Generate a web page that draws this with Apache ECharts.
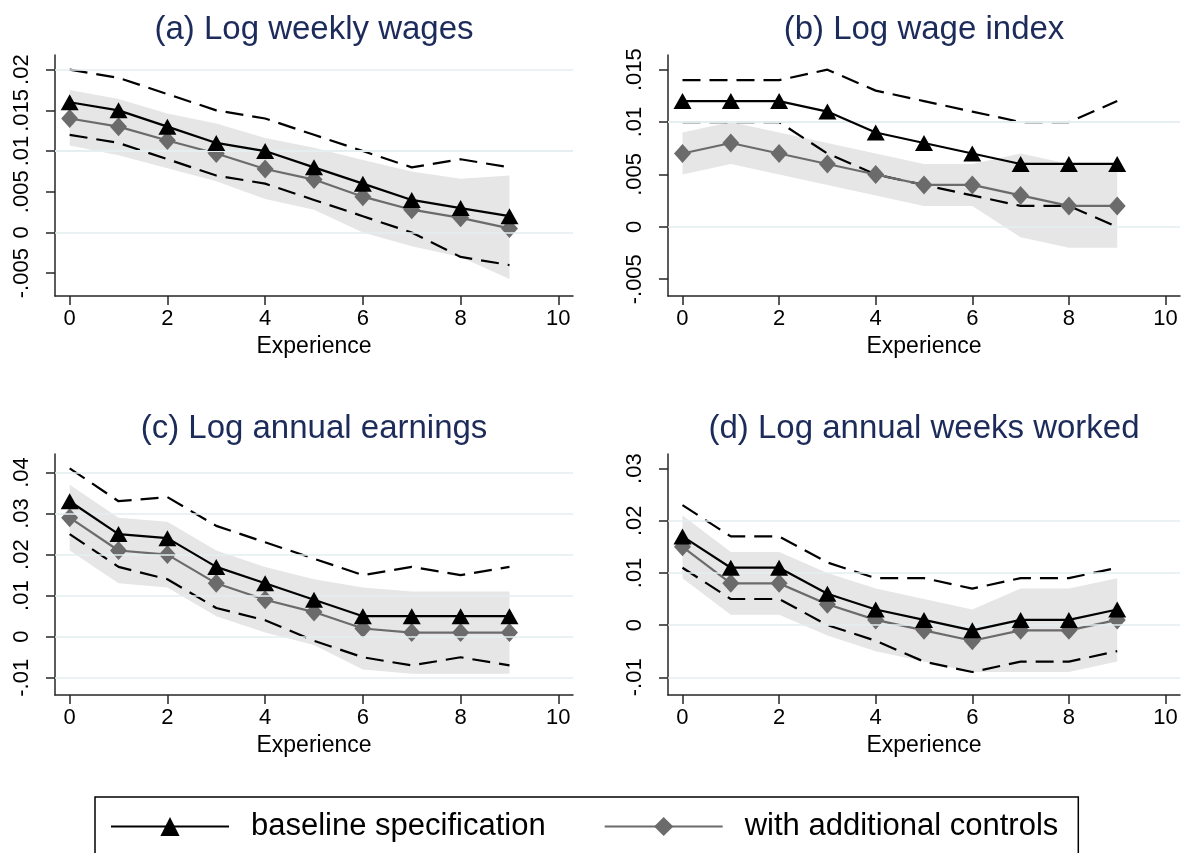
<!DOCTYPE html>
<html>
<head>
<meta charset="utf-8">
<script src="https://cdn.jsdelivr.net/npm/echarts@6/dist/echarts.min.js"></script>
<style>
  html, body { margin: 0; padding: 0; background: #ffffff; }
  #chart { width: 1186px; height: 853px; }
</style>
</head>
<body>
<div id="chart"></div>
<script>
// Years of experience on the horizontal axis
const experience = [0, 1, 2, 3, 4, 5, 6, 7, 8, 9];
const xTicks = [0, 2, 4, 6, 8, 10];

// (a) Log weekly wages
const wagesBase   = [0.016, 0.015, 0.013, 0.011, 0.010, 0.008, 0.006, 0.004, 0.003, 0.002];
const wagesBaseHi = [0.020, 0.019, 0.017, 0.015, 0.014, 0.012, 0.010, 0.008, 0.009, 0.008];
const wagesBaseLo = [0.012, 0.011, 0.009, 0.007, 0.006, 0.004, 0.002, 0.000, -0.003, -0.004];
const wagesCtrl   = [0.014, 0.013, 0.0113, 0.0097, 0.0078, 0.0065, 0.0044, 0.0028, 0.0018, 0.0005];
const wagesCtrlHi = [0.0175, 0.0164, 0.0146, 0.0134, 0.0116, 0.0104, 0.0089, 0.0075, 0.0066, 0.0070];
const wagesCtrlLo = [0.0107, 0.0095, 0.0079, 0.0063, 0.0041, 0.0028, 0.0000, -0.0017, -0.0030, -0.0057];
const wagesTicks  = [-0.005, 0, 0.005, 0.01, 0.015, 0.02];

// (b) Log wage index
const indexBase   = [0.012, 0.012, 0.012, 0.011, 0.009, 0.008, 0.007, 0.006, 0.006, 0.006];
const indexBaseHi = [0.014, 0.014, 0.014, 0.015, 0.013, 0.012, 0.011, 0.010, 0.010, 0.012];
const indexBaseLo = [0.010, 0.010, 0.010, 0.007, 0.005, 0.004, 0.003, 0.002, 0.002, 0.000];
const indexCtrl   = [0.007, 0.008, 0.007, 0.006, 0.005, 0.004, 0.004, 0.003, 0.002, 0.002];
const indexCtrlHi = [0.009, 0.010, 0.009, 0.008, 0.007, 0.006, 0.006, 0.007, 0.006, 0.006];
const indexCtrlLo = [0.005, 0.006, 0.005, 0.004, 0.003, 0.002, 0.002, -0.001, -0.002, -0.002];
const indexTicks  = [-0.005, 0, 0.005, 0.01, 0.015];

// (c) Log annual earnings
const earnBase    = [0.033, 0.025, 0.024, 0.017, 0.013, 0.009, 0.005, 0.005, 0.005, 0.005];
const earnBaseHi  = [0.041, 0.033, 0.034, 0.027, 0.023, 0.019, 0.015, 0.017, 0.015, 0.017];
const earnBaseLo  = [0.025, 0.017, 0.014, 0.007, 0.004, -0.001, -0.005, -0.007, -0.005, -0.007];
const earnCtrl    = [0.029, 0.021, 0.020, 0.013, 0.009, 0.006, 0.002, 0.001, 0.001, 0.001];
const earnCtrlHi  = [0.037, 0.029, 0.028, 0.021, 0.017, 0.014, 0.012, 0.011, 0.011, 0.011];
const earnCtrlLo  = [0.021, 0.013, 0.012, 0.005, 0.001, -0.002, -0.008, -0.009, -0.009, -0.009];
const earnTicks   = [-0.01, 0, 0.01, 0.02, 0.03, 0.04];

// (d) Log annual weeks worked
const weeksBase   = [0.017, 0.011, 0.011, 0.006, 0.003, 0.001, -0.001, 0.001, 0.001, 0.003];
const weeksBaseHi = [0.023, 0.017, 0.017, 0.012, 0.009, 0.009, 0.007, 0.009, 0.009, 0.011];
const weeksBaseLo = [0.011, 0.005, 0.005, 0.000, -0.003, -0.007, -0.009, -0.007, -0.007, -0.005];
const weeksCtrl   = [0.015, 0.008, 0.008, 0.004, 0.001, -0.001, -0.003, -0.001, -0.001, 0.001];
const weeksCtrlHi = [0.021, 0.014, 0.014, 0.010, 0.007, 0.005, 0.003, 0.007, 0.007, 0.009];
const weeksCtrlLo = [0.009, 0.002, 0.002, -0.002, -0.005, -0.007, -0.009, -0.009, -0.009, -0.007];
const weeksTicks  = [-0.01, 0, 0.01, 0.02, 0.03];

const titles = ['(a) Log weekly wages', '(b) Log wage index', '(c) Log annual earnings', '(d) Log annual weeks worked'];
const baseName = 'baseline specification';
const ctrlName = 'with additional controls';
const xTitle = 'Experience';

const FONT = '"Liberation Sans", Arial, Helvetica, sans-serif';
const AXIS_COLOR = '#262626';
const GRID_COLOR = '#e5eef1';
const BAND_COLOR = '#e6e6e6';
const CTRL_COLOR = '#6b6b6b';
const TITLE_COLOR = '#1c2b5a';

const panels = [
  { title: titles[0], base: wagesBase, baseHi: wagesBaseHi, baseLo: wagesBaseLo,
    ctrl: wagesCtrl, ctrlHi: wagesCtrlHi, ctrlLo: wagesCtrlLo, ticks: wagesTicks, grid: wagesTicks,
    yMin: -0.0078, yMax: 0.0218,
    box: { left: 55, top: 55, width: 518, height: 241 }, titleX: 314, titleY: 13 },
  { title: titles[1], base: indexBase, baseHi: indexBaseHi, baseLo: indexBaseLo,
    ctrl: indexCtrl, ctrlHi: indexCtrlHi, ctrlLo: indexCtrlLo, ticks: indexTicks, grid: indexTicks,
    yMin: -0.0066, yMax: 0.0164,
    box: { left: 668, top: 55, width: 512, height: 241 }, titleX: 924, titleY: 13 },
  { title: titles[2], base: earnBase, baseHi: earnBaseHi, baseLo: earnBaseLo,
    ctrl: earnCtrl, ctrlHi: earnCtrlHi, ctrlLo: earnCtrlLo, ticks: earnTicks, grid: earnTicks,
    yMin: -0.0142, yMax: 0.0445,
    box: { left: 55, top: 454, width: 518, height: 241 }, titleX: 314, titleY: 412 },
  { title: titles[3], base: weeksBase, baseHi: weeksBaseHi, baseLo: weeksBaseLo,
    ctrl: weeksCtrl, ctrlHi: weeksCtrlHi, ctrlLo: weeksCtrlLo, ticks: weeksTicks, grid: weeksTicks.slice(0, 4),
    yMin: -0.0134, yMax: 0.0328,
    box: { left: 668, top: 454, width: 512, height: 241 }, titleX: 924, titleY: 412 }
];

// Stata-style tick labels: ".015", "-.005", "0"
function fmtY(v) {
  if (Math.abs(v) < 1e-12) return '0';
  return String(+Number(v).toFixed(4)).replace(/^(-?)0\./, '$1.');
}

const pairs = (ys) => experience.map((x, k) => [x, ys[k]]);

const option = {
  animation: false,
  backgroundColor: '#ffffff',
  textStyle: { fontFamily: FONT },
  title: panels.map(p => ({
    text: p.title, left: p.titleX, top: p.titleY, textAlign: 'center', padding: 0,
    textStyle: { fontFamily: FONT, fontSize: 33, fontWeight: 'normal', color: TITLE_COLOR }
  })),
  grid: panels.map(p => Object.assign({ containLabel: false }, p.box)),
  xAxis: panels.map((p, i) => ({
    gridIndex: i, type: 'value', min: -0.3, max: 10.3,
    name: xTitle, nameLocation: 'middle', nameGap: 39,
    nameTextStyle: { fontFamily: FONT, fontSize: 23, color: '#000' },
    splitLine: { show: false },
    axisLine: { show: true, onZero: false, lineStyle: { color: AXIS_COLOR, width: 1.5 } },
    axisTick: { show: true, length: 9, customValues: xTicks, lineStyle: { color: AXIS_COLOR, width: 1.5 } },
    axisLabel: { customValues: xTicks, fontFamily: FONT, fontSize: 22, color: '#000', margin: 12 }
  })),
  yAxis: panels.map((p, i) => ({
    gridIndex: i, type: 'value', min: p.yMin, max: p.yMax,
    splitLine: { show: false },
    axisLine: { show: true, onZero: false, lineStyle: { color: AXIS_COLOR, width: 1.5 } },
    axisTick: { show: true, length: 9, customValues: p.ticks, lineStyle: { color: AXIS_COLOR, width: 1.5 } },
    axisLabel: { customValues: p.ticks, rotate: 90, fontFamily: FONT, fontSize: 22, color: '#000',
                 margin: 22, formatter: fmtY }
  })),
  legend: {
    data: [baseName, ctrlName],
    left: 95, top: 797, orient: 'horizontal',
    padding: [14, 20, 40, 15],
    itemGap: 58, itemWidth: 118, itemHeight: 24,
    borderColor: '#000', borderWidth: 1.5, borderRadius: 0,
    selectedMode: false,
    textStyle: { fontFamily: FONT, fontSize: 31, color: '#000', padding: [0, 0, 0, 17] }
  },
  series: []
};

panels.forEach((p, i) => {
  const axes = { xAxisIndex: i, yAxisIndex: i };
  // horizontal grid lines
  option.series.push(Object.assign({
    type: 'line', name: 'grid' + i, data: [], z: 1, silent: true,
    markLine: {
      silent: true, symbol: ['none', 'none'], label: { show: false },
      lineStyle: { color: GRID_COLOR, width: 1.5, type: 'solid' },
      data: p.grid.map(v => ({ yAxis: v }))
    }
  }, axes));
  // shaded confidence band of the specification with controls
  option.series.push(Object.assign({
    type: 'custom', name: 'band' + i, z: 2, silent: true, clip: true,
    data: experience.map((x, k) => [x, p.ctrlLo[k], p.ctrlHi[k]]),
    encode: { x: 0, y: [1, 2] },
    renderItem: (params, api) => {
      if (params.dataIndex !== 0) return null;
      const upper = experience.map((x, k) => api.coord([x, p.ctrlHi[k]]));
      const lower = experience.map((x, k) => api.coord([x, p.ctrlLo[k]])).reverse();
      return {
        type: 'polygon',
        shape: { points: upper.concat(lower) },
        style: { fill: BAND_COLOR, stroke: 'none' }
      };
    }
  }, axes));
  // dashed confidence bounds of the baseline
  [p.baseHi, p.baseLo].forEach((ys, k) => {
    option.series.push(Object.assign({
      type: 'line', name: 'base-ci' + i + '-' + k, data: pairs(ys),
      showSymbol: false, symbol: 'none', z: 3, silent: true,
      lineStyle: { color: '#000', width: 2.2, type: [18, 9] }
    }, axes));
  });
  // point estimates
  option.series.push(Object.assign({
    type: 'line', name: ctrlName, data: pairs(p.ctrl), z: 4,
    symbol: 'diamond', symbolSize: [17, 19], showAllSymbol: true,
    itemStyle: { color: CTRL_COLOR }, lineStyle: { color: CTRL_COLOR, width: 2.2 }
  }, axes));
  option.series.push(Object.assign({
    type: 'line', name: baseName, data: pairs(p.base), z: 5,
    symbol: 'triangle', symbolSize: [18, 16], showAllSymbol: true,
    itemStyle: { color: '#000' }, lineStyle: { color: '#000', width: 2.2 }
  }, axes));
});

const chart = echarts.init(document.getElementById('chart'), null, { renderer: 'canvas' });
chart.setOption(option);
</script>
</body>
</html>
